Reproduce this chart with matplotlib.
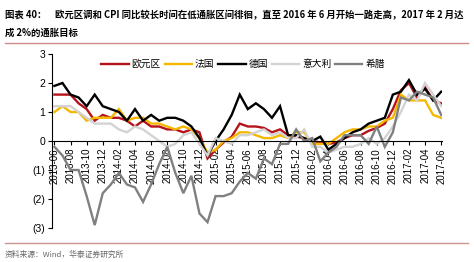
import matplotlib
matplotlib.use('Agg')
import matplotlib.pyplot as plt
import matplotlib.ticker as ticker
from matplotlib.lines import Line2D
import pandas as pd

# %% data: monthly HICP yoy (%), 2013-06 .. 2017-06
months = pd.date_range('2013-06-01', '2017-06-01', freq='MS')
tick_labels = list(months.strftime('%Y-%m')[::2])

eurozone = [1.6, 1.6, 1.6, 1.3, 1.1, 0.7, 0.9, 0.8, 0.8, 0.7, 0.5, 0.7, 0.5, 0.5, 0.4, 0.4, 0.3, 0.4, 0.3, -0.6,
            -0.3, -0.05, 0.15, 0.6, 0.5, 0.5, 0.45, 0.3, 0.4, 0.2, 0.15, 0.1, 0.0, -0.05, -0.1, -0.05, 0.1, 0.2,
            0.2, 0.35, 0.45, 0.6, 1.1, 1.75, 2.0, 1.5, 1.85, 1.4, 1.3]
france = [1.0, 1.2, 1.0, 1.0, 0.7, 0.8, 0.8, 0.8, 1.1, 0.7, 0.8, 0.8, 0.6, 0.6, 0.5, 0.4, 0.5, 0.4, 0.1, -0.4,
          -0.3, 0.0, 0.1, 0.3, 0.3, 0.2, 0.1, 0.1, 0.2, 0.1, 0.3, 0.3, -0.1, -0.1, -0.1, 0.1, 0.3, 0.4,
          0.4, 0.5, 0.5, 0.7, 0.8, 1.6, 1.4, 1.4, 1.4, 0.9, 0.8]
germany = [1.9, 2.0, 1.6, 1.5, 1.2, 1.6, 1.2, 1.1, 1.0, 0.7, 1.1, 0.7, 0.9, 0.7, 0.8, 0.8, 0.7, 0.5, 0.1, -0.5,
           0.0, 0.4, 0.9, 1.6, 1.1, 1.3, 1.1, 0.8, 1.2, 0.2, 0.2, 0.1, 0.0, 0.15, -0.3, -0.1, 0.1, 0.3,
           0.4, 0.6, 0.7, 0.8, 1.6, 1.7, 2.1, 1.6, 1.8, 1.4, 1.7]
italy = [1.2, 1.2, 1.2, 1.0, 0.8, 0.6, 0.6, 0.6, 0.4, 0.3, 0.5, 0.4, 0.2, 0.0, -0.2, -0.1, 0.2, 0.3, -0.1, -0.5,
         0.1, 0.0, -0.1, 0.2, 0.2, 0.3, 0.4, 0.2, 0.3, 0.1, 0.1, 0.4, -0.2, -0.2, -0.4, -0.3, -0.2, -0.2,
         -0.1, 0.1, -0.1, 0.1, 0.5, 1.0, 1.6, 1.4, 2.0, 1.6, 1.2]
greece = [-0.2, -0.5, -1.0, -1.0, -1.9, -2.9, -1.8, -1.5, -1.1, -1.5, -1.6, -2.1, -1.5, -0.8, -0.2, -1.1, -1.8,
          -1.2, -2.5, -2.8, -1.9, -1.9, -1.8, -1.4, -1.1, -1.3, -0.6, -0.8, -0.1, -0.1, 0.4, 0.0, 0.1, -0.7,
          -0.4, -0.2, 0.2, 0.2, 0.2, -0.1, 0.5, -0.2, 0.3, 1.5, 1.4, 1.7, 1.6, 1.5, 0.9]

series = [('欧元区', eurozone, '#b5121b'),
          ('法国', france, '#f5b800'),
          ('德国', germany, '#000000'),
          ('意大利', italy, '#d3d3d3'),
          ('希腊', greece, '#808080')]

cjk = ['Noto Sans CJK SC', 'DejaVu Sans']
plt.rcParams['font.family'] = ['Liberation Sans', 'DejaVu Sans']

# %% figure
fig = plt.figure(figsize=(4.74, 2.62), dpi=100)
ax = fig.add_axes([52 / 474, 1 - 228 / 262, 390 / 474, 174 / 262])

x = list(range(len(months)))
for name, vals, col in series:
    ax.plot(x, vals, color=col, lw=1.7, label=name, solid_joinstyle='miter')

# spine position first, it resets the tick labels
for s in ['top', 'right']:
    ax.spines[s].set_visible(False)
ax.spines['bottom'].set_position(('data', 0))
ax.spines['left'].set_linewidth(0.8)
ax.spines['bottom'].set_linewidth(0.8)

ax.set_xlim(-0.3, 48.1)
ax.set_ylim(-3, 3)
ax.set_yticks(range(-3, 4))
ax.yaxis.set_major_formatter(ticker.FuncFormatter(lambda v, p: f'({abs(int(v))})' if v < 0 else f'{int(v)}'))
ax.set_xticks(x[::2])
ax.set_xticklabels(tick_labels, rotation=90, fontsize=7)
ax.tick_params(axis='y', labelsize=7.5, length=3, width=0.8, pad=2)
ax.tick_params(axis='x', length=3, width=0.8, pad=2)

ax.legend(loc='upper center', bbox_to_anchor=(0.49, 1.02), ncol=5, frameon=False,
          prop=dict(family=cjk, size=7), handlelength=2.8, columnspacing=0.4, handletextpad=0.3)

# %% title, rules and source
fig.text(5 / 474, 1 - 15 / 262, '图表 40：', family=cjk, fontsize=6.75, fontweight='bold', va='center')
fig.text(55 / 474, 1 - 15 / 262,
         '欧元区调和 CPI 同比较长时间在低通胀区间徘徊，直至 2016 年 6 月开始一路走高，2017 年 2 月达',
         family=cjk, fontsize=6.75, fontweight='bold', va='center')
fig.text(5 / 474, 1 - 33 / 262, '成 2%的通胀目标', family=cjk, fontsize=6.75, fontweight='bold', va='center')
fig.add_artist(Line2D([5 / 474, 468 / 474], [1 - 43 / 262] * 2, color='#d08a8a', lw=1))
fig.add_artist(Line2D([5 / 474, 468 / 474], [1 - 243 / 262] * 2, color='#c9968f', lw=1))
fig.text(5 / 474, 1 - 255 / 262, '资料来源：Wind，华泰证券研究所', family=cjk, fontsize=5.6, color='#666666', va='center')

fig.savefig('out.png', dpi=100)
